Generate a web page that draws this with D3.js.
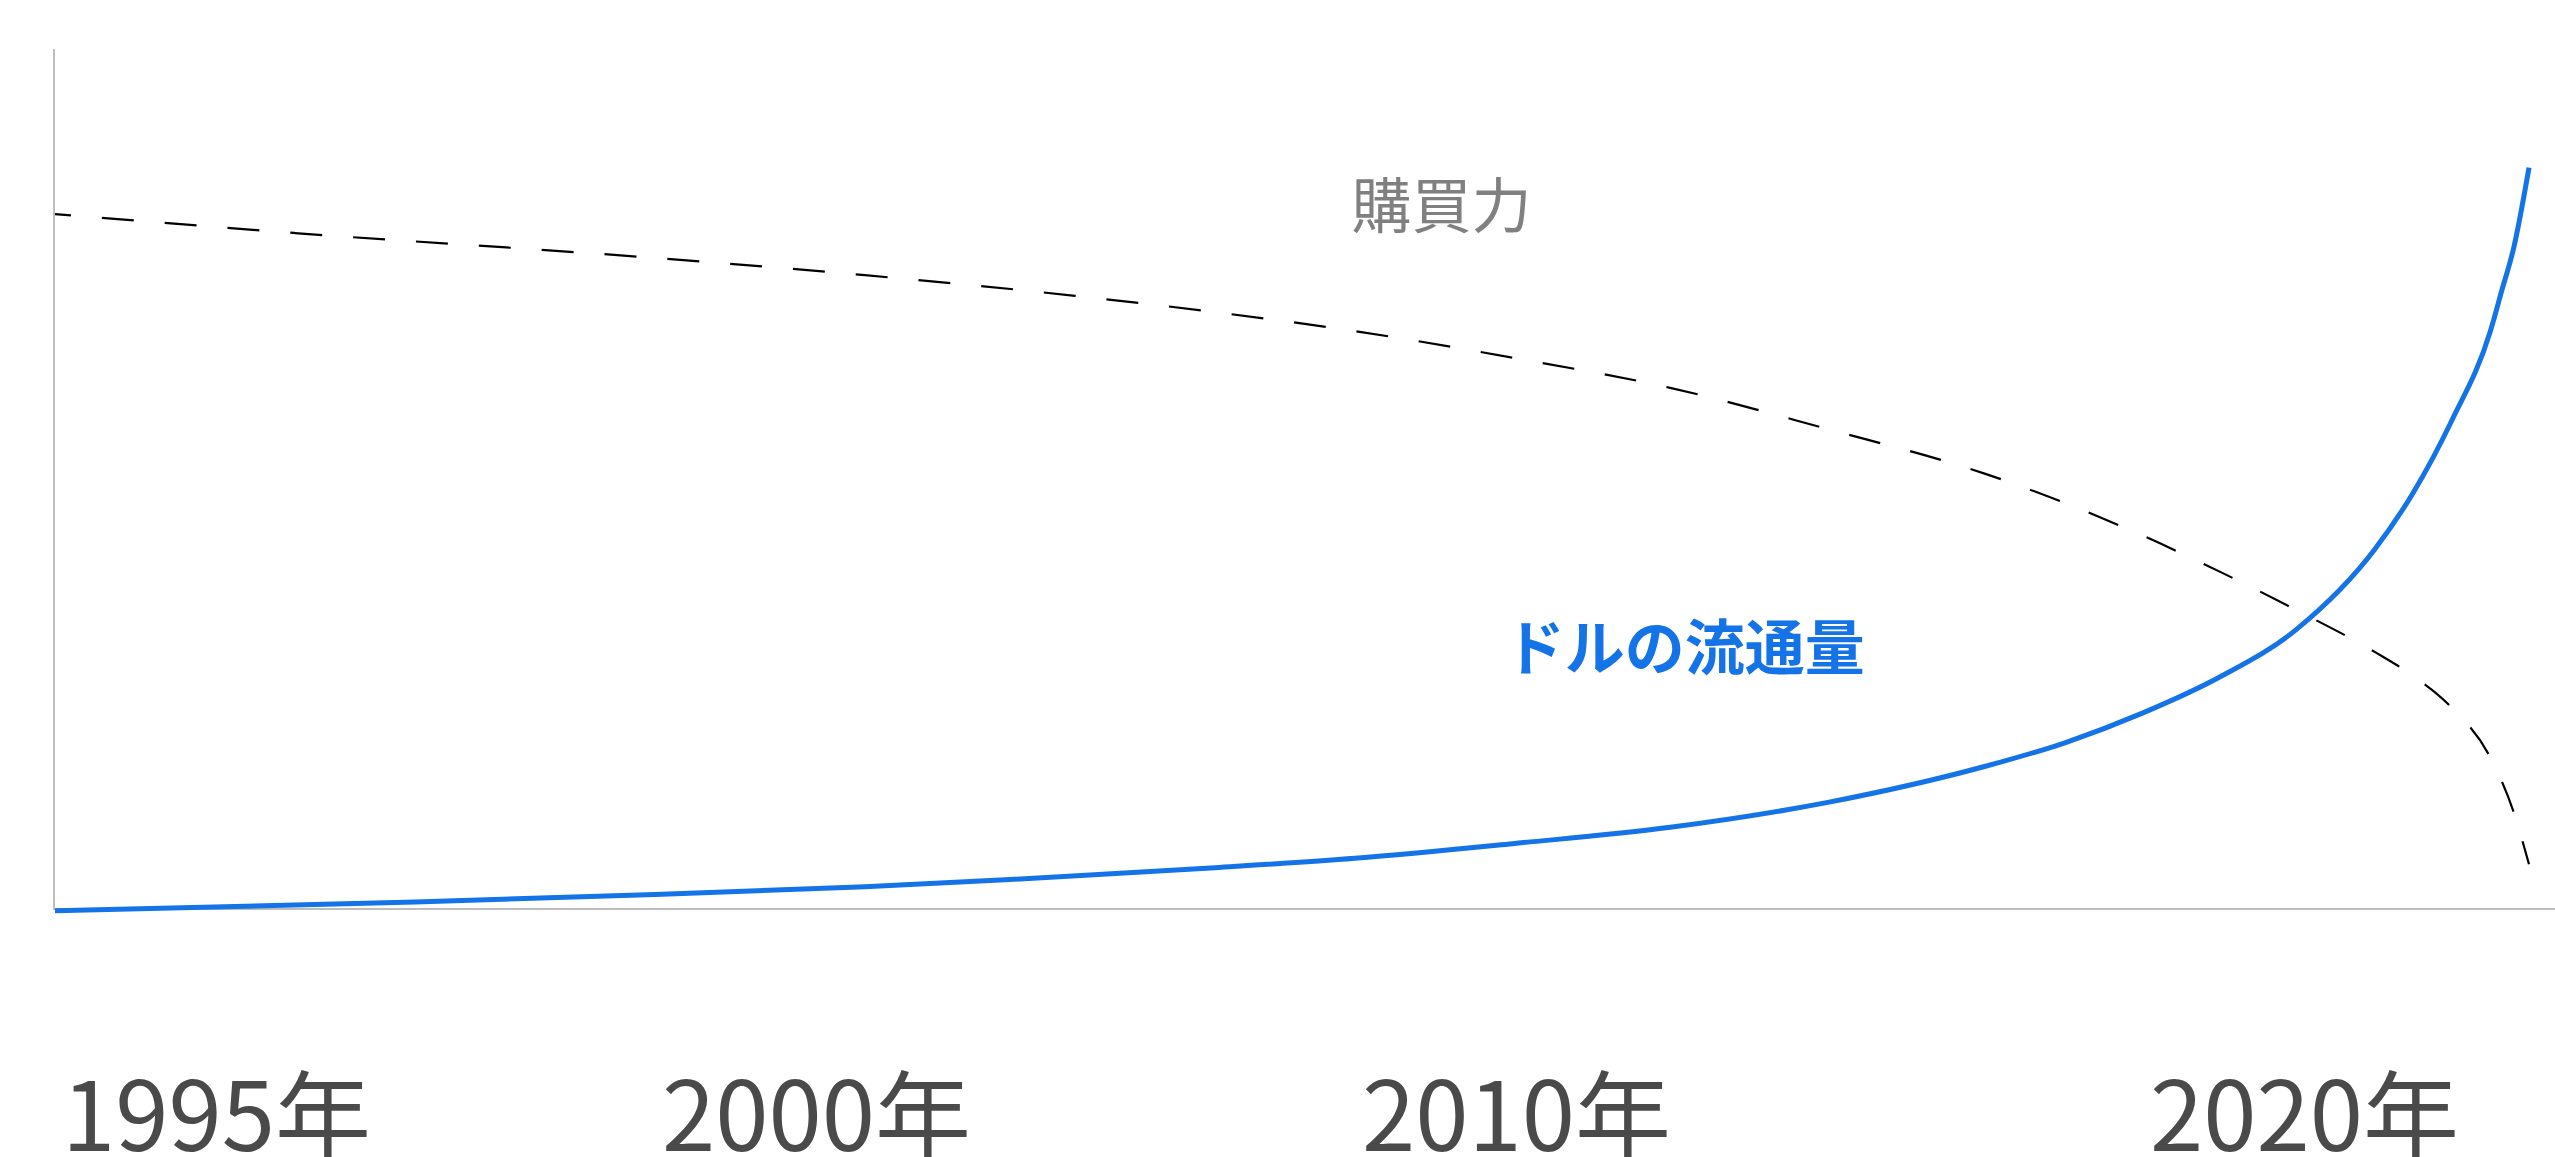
<!DOCTYPE html>
<html>
<head>
<meta charset="utf-8">
<script src="https://cdn.jsdelivr.net/npm/d3@7"></script>
<style>
  html, body { margin: 0; padding: 0; background: #fff; }
  svg { display: block; }
</style>
</head>
<body>
<div id="general"></div>
<script>
// tick labels on the x axis
const tickYears = [1995, 2000, 2010, 2020];
const tickLabels = ["1995年", "2000年", "2010年", "2020年"];

// purchasing power (dashed)
const powerYears  = [1995, 1997, 2000, 2003, 2006, 2008, 2010, 2012, 2014, 2016, 2018, 2020, 2021, 2022, 2023, 2023.5, 2024, 2024.5, 2024.8, 2025];
const powerValues = [80.8, 78.6, 75.7, 73.7, 71.3, 69.4, 67.2, 64.1, 60.6, 55.8, 50.6, 43.4, 39.2, 34.7, 29.9, 27.1, 23.4, 17.6, 11.3, 5.2];

// dollar supply (blue)
const supplyYears  = [1995, 1998, 2000, 2003, 2005, 2008, 2010, 2012, 2014, 2016, 2018, 2019, 2020, 2021, 2022, 2023, 2023.5, 2024, 2024.5, 2024.65, 2024.8, 2025];
const supplyValues = [-0.2, 0.8, 1.7, 2.6, 3.4, 4.8, 5.9, 7.6, 9.5, 12.4, 16.6, 19.3, 22.8, 27.0, 32.6, 41.8, 48.4, 56.8, 67.2, 72.0, 76.8, 86.2];

// series labels
const seriesLabels = [
  {text: "購買力", year: 2009.95, value: 79.2, color: "#808080", weight: 400},
  {text: "ドルの流通量", year: 2011.9, value: 27.8, color: "#1473e6", weight: 700}
];

const w = 2555, h = 1157;
const m = {l: 55, t: 49, b: 909};

const svg = d3.select("#general").append("svg")
  .attr("width", w)
  .attr("height", h)
  .attr("viewBox", [0, 0, w, h]);

// the x spacing in the original is not even between ticks
const x = d3.scaleLinear()
  .domain([1995, 2000, 2010, 2020, 2025])
  .range([m.l, 655, 1355, 2143, 2529]);
const y = d3.scaleLinear().domain([0, 100]).range([m.b, m.t]);

// axes
svg.append("line")
  .attr("x1", m.l - 1).attr("x2", m.l - 1)
  .attr("y1", m.t).attr("y2", m.b)
  .attr("stroke", "#bdbdbd").attr("stroke-width", 2);
svg.append("line")
  .attr("x1", m.l - 2).attr("x2", w)
  .attr("y1", m.b).attr("y2", m.b)
  .attr("stroke", "#bdbdbd").attr("stroke-width", 2);

const line = d3.line()
  .x(d => x(d[0]))
  .y(d => y(d[1]))
  .curve(d3.curveMonotoneX);

svg.append("path")
  .datum(d3.zip(powerYears, powerValues))
  .attr("d", line)
  .attr("fill", "none")
  .attr("stroke", "#000")
  .attr("stroke-width", 2.2)
  .attr("stroke-dasharray", "32 31")
  .attr("stroke-dashoffset", 16);

svg.append("path")
  .datum(d3.zip(supplyYears, supplyValues))
  .attr("d", line)
  .attr("fill", "none")
  .attr("stroke", "#1473e6")
  .attr("stroke-width", 5);

// tick labels
svg.append("g")
  .selectAll("text")
  .data(tickYears)
  .join("text")
    .attr("x", d => x(d) + 7)
    .attr("y", 1151)
    .attr("fill", "#4a4a4a")
    .style("font-size", "96px")
    .style("font-family", "'Noto Sans CJK JP', 'Noto Sans', sans-serif")
    .text((d, i) => tickLabels[i]);

// series labels
svg.append("g")
  .selectAll("text")
  .data(seriesLabels)
  .join("text")
    .attr("x", d => x(d.year))
    .attr("y", d => y(d.value))
    .attr("fill", d => d.color)
    .style("font-weight", d => d.weight)
    .style("font-size", "60px")
    .style("font-family", "'Noto Sans CJK JP', sans-serif")
    .text(d => d.text);
</script>
</body>
</html>
